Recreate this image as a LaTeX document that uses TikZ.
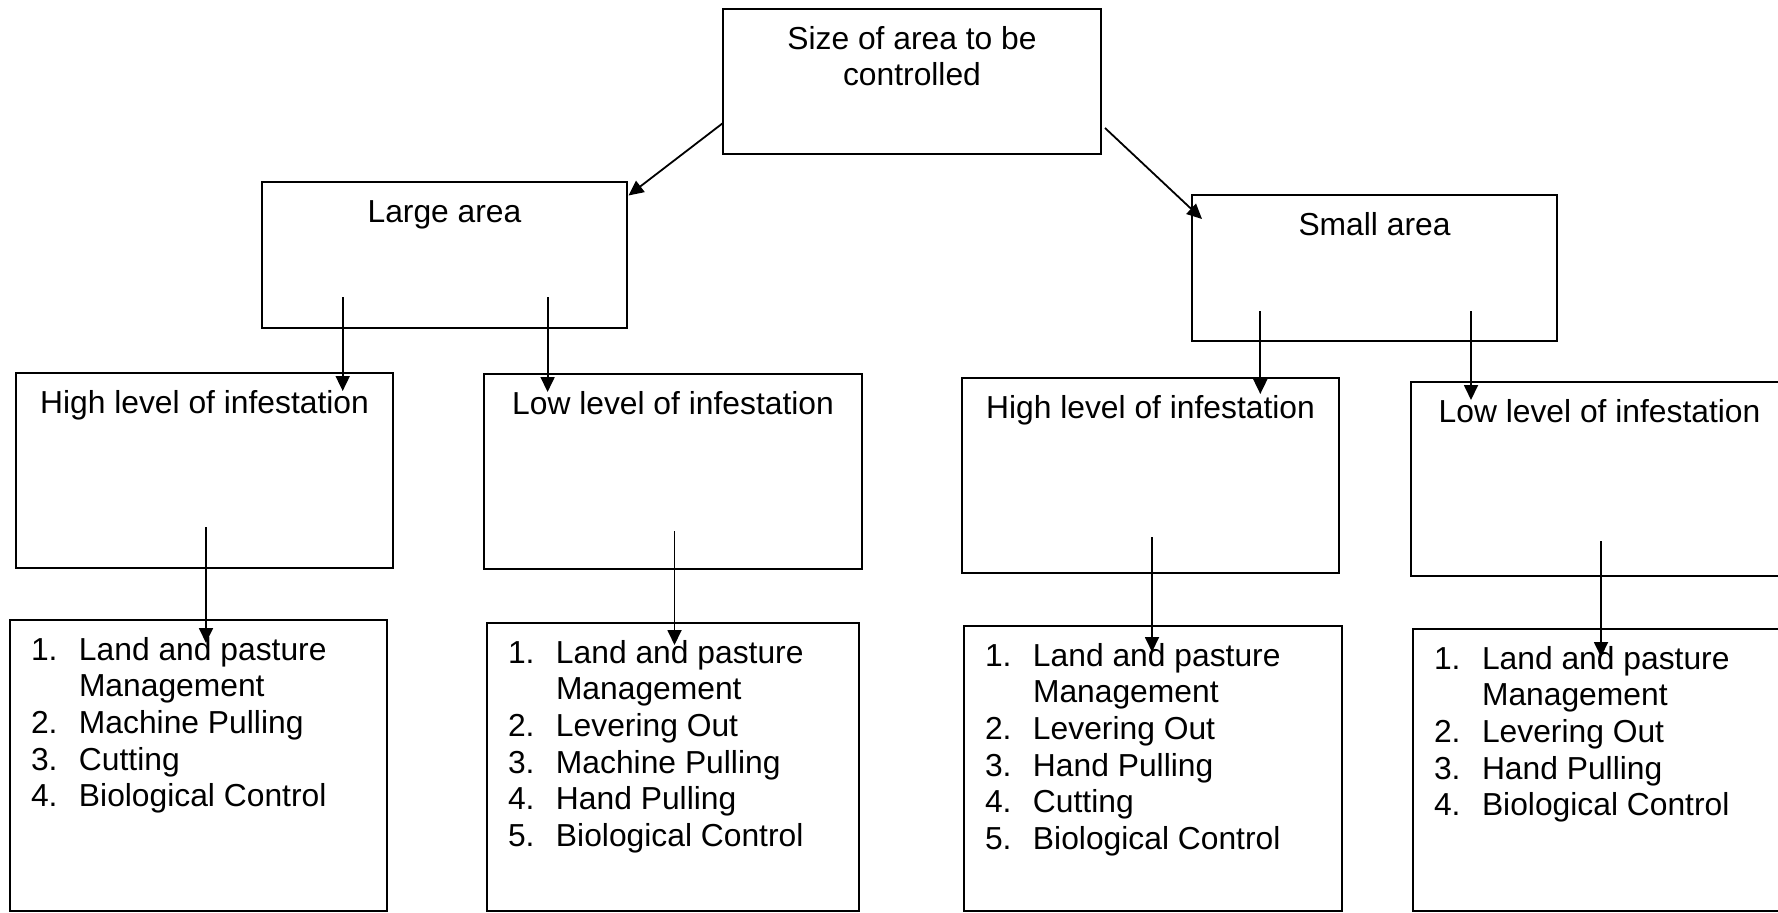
\documentclass[tikz,border=0pt]{standalone}
\usepackage{fontspec}
\setmainfont{Liberation Sans}
\usetikzlibrary{arrows.meta}
\newcommand{\itemno}[1]{\makebox[48pt][l]{#1.}}
\newcommand{\itemcont}{\hspace*{48pt}}

\begin{document}
\begin{tikzpicture}
	[x=1pt, y=-1pt,
	every node/.style={draw, line width=1.8pt, inner sep=0, outer sep=0, anchor=north west},
	box/.style 2 args={execute at begin node={\begin{minipage}[t][#2][t]{#1}\fontsize{31.8pt}{36.7pt}\selectfont\centering\rule{0pt}{40pt}},
		execute at end node={\end{minipage}}},
	listbox/.style 2 args={execute at begin node={\begin{minipage}[t][#2][t]{#1}\fontsize{31.8pt}{36.7pt}\selectfont\raggedright\leftskip=21pt\rule{0pt}{40pt}},
		execute at end node={\end{minipage}}},
	arr/.style={line width=1.8pt, -{Triangle[length=15pt,width=14pt]}}]
	\useasboundingbox (0,0) rectangle (1778,913);
	\node (size) [box={378pt}{145pt}] at (723, 9) {Size of area to be\\controlled};
	\node (large) [box={365pt}{146pt}] at (262, 182) {Large area};
	\node (small) [box={365pt}{146pt}] at (1192, 195) {Small area};
	\node (lhigh) [box={377pt}{195pt}] at (16, 373) {High level of infestation};
	\node (llow) [box={378pt}{195pt}] at (484, 374) {Low level of infestation};
	\node (shigh) [box={377pt}{195pt}] at (962, 378) {High level of infestation};
	\node (slow) [box={377pt}{194pt}] at (1411, 382) {Low level of infestation};
	\node (lhmeth) [listbox={377pt}{291pt}] at (10, 620)
		{\itemno{1}Land and pasture\\\itemcont Management\\\itemno{2}Machine Pulling\\\itemno{3}Cutting\\\itemno{4}Biological Control};
	\node (llmeth) [listbox={372pt}{288pt}] at (487, 623)
		{\itemno{1}Land and pasture\\\itemcont Management\\\itemno{2}Levering Out\\\itemno{3}Machine Pulling\\\itemno{4}Hand Pulling\\\itemno{5}Biological Control};
	\node (shmeth) [listbox={378pt}{285pt}] at (964, 626)
		{\itemno{1}Land and pasture\\\itemcont Management\\\itemno{2}Levering Out\\\itemno{3}Hand Pulling\\\itemno{4}Cutting\\\itemno{5}Biological Control};
	\node (slmeth) [listbox={377pt}{282pt}] at (1413, 629)
		{\itemno{1}Land and pasture\\\itemcont Management\\\itemno{2}Levering Out\\\itemno{3}Hand Pulling\\\itemno{4}Biological Control};
	\draw [arr] ([yshift=-114pt]size.north west) -- ([xshift=1.5pt,yshift=-13.5pt]large.north east);
	\draw [arr] ([xshift=4pt,yshift=-119pt]size.north east) -- ([xshift=10pt,yshift=-24pt]small.north west);
	\draw [arr] ([xshift=80.7pt,yshift=31pt]large.south west) -- ([xshift=326.7pt,yshift=-18pt]lhigh.north west);
	\draw [arr] ([xshift=285.6pt,yshift=31pt]large.south west) -- ([xshift=63.6pt,yshift=-18pt]llow.north west);
	\draw [arr] ([xshift=68.3pt,yshift=30pt]small.south west) -- ([xshift=298.3pt,yshift=-16pt]shigh.north west);
	\draw [arr] ([xshift=279pt,yshift=30pt]small.south west) -- ([xshift=60pt,yshift=-18pt]slow.north west);
	\draw [arr] ([xshift=190pt,yshift=41pt]lhigh.south west) -- ([xshift=196pt,yshift=-23pt]lhmeth.north west);
	\draw [arr] ([xshift=190.5pt,yshift=38pt]llow.south west) -- ([xshift=187.5pt,yshift=-22pt]llmeth.north west);
	\draw [arr] ([xshift=190pt,yshift=36pt]shigh.south west) -- ([xshift=188pt,yshift=-26pt]shmeth.north west);
	\draw [arr] ([xshift=190pt,yshift=35pt]slow.south west) -- ([xshift=188pt,yshift=-28pt]slmeth.north west);
\end{tikzpicture}
\end{document}
